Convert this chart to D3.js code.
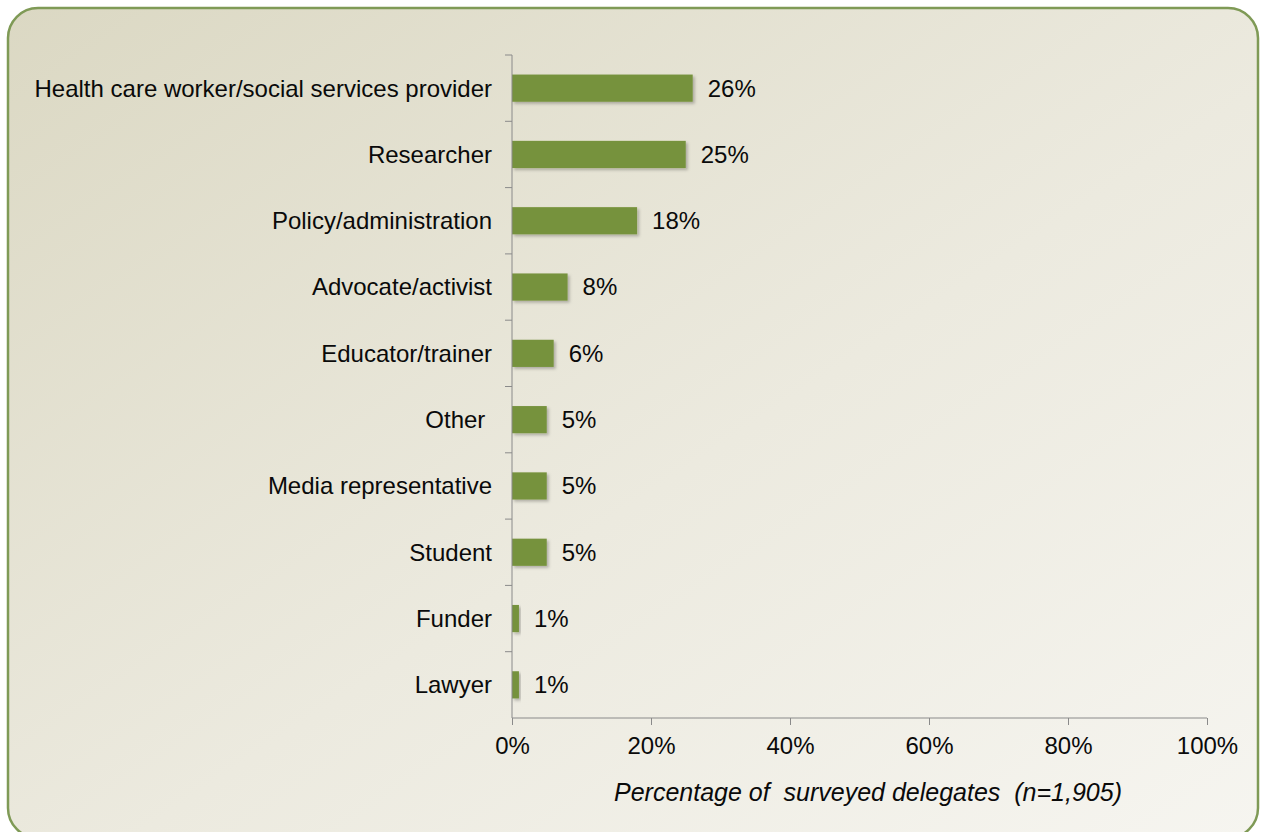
<!DOCTYPE html>
<html>
<head>
<meta charset="utf-8">
<script src="https://cdn.jsdelivr.net/npm/d3@7/dist/d3.min.js"></script>
<style>
  html, body { margin: 0; padding: 0; background: #ffffff; }
  svg { display: block; }
  text { font-family: "Liberation Sans", Arial, sans-serif; fill: #0a0a0a; }
</style>
</head>
<body>
<svg id="chart" width="1263" height="832"></svg>
<script>
// Role of surveyed delegates
const categories = [
  "Health care worker/social services provider",
  "Researcher",
  "Policy/administration",
  "Advocate/activist",
  "Educator/trainer",
  "Other ",
  "Media representative",
  "Student",
  "Funder",
  "Lawyer"
];
const shares = [26, 25, 18, 8, 6, 5, 5, 5, 1, 1];
const xTicks = [0, 20, 40, 60, 80, 100];
const xTitle = "Percentage of  surveyed delegates  (n=1,905)";

const svg = d3.select("#chart");
const defs = svg.append("defs");

const bg = defs.append("linearGradient")
  .attr("id", "panelFill")
  .attr("x1", "0%").attr("y1", "0%").attr("x2", "100%").attr("y2", "100%");
bg.append("stop").attr("offset", "0%").attr("stop-color", "#dbd8c3");
bg.append("stop").attr("offset", "55%").attr("stop-color", "#eceadf");
bg.append("stop").attr("offset", "100%").attr("stop-color", "#f6f5f0");

const shadow = defs.append("filter").attr("id", "barShadow")
  .attr("x", "-10%").attr("y", "-30%").attr("width", "130%").attr("height", "180%");
shadow.append("feDropShadow")
  .attr("dx", 2).attr("dy", 2).attr("stdDeviation", 1.5)
  .attr("flood-color", "#000").attr("flood-opacity", 0.25);

// Rounded panel
svg.append("rect")
  .attr("x", 8).attr("y", 8)
  .attr("width", 1250).attr("height", 830)
  .attr("rx", 30).attr("ry", 30)
  .attr("fill", "url(#panelFill)")
  .attr("stroke", "#7f9a56")
  .attr("stroke-width", 2.5);

const x = d3.scaleLinear().domain([0, 100]).range([512, 1207]);
const y = d3.scaleBand().domain(categories).range([55, 718]).paddingInner(0.59).paddingOuter(0.295);

const axisColor = "#8a8a8a";
const fontSize = 24;

// Bars
svg.append("g").selectAll("rect")
  .data(categories)
  .join("rect")
  .attr("x", x(0))
  .attr("y", d => y(d))
  .attr("width", (d, i) => x(shares[i]) - x(0))
  .attr("height", y.bandwidth())
  .attr("fill", "#76923c")
  .attr("filter", "url(#barShadow)");

// Value labels
svg.append("g").selectAll("text")
  .data(categories)
  .join("text")
  .attr("x", (d, i) => x(shares[i]) + 15)
  .attr("y", d => y(d) + y.bandwidth() / 2)
  .attr("dy", "0.35em")
  .attr("font-size", fontSize)
  .text((d, i) => shares[i] + "%");

// Y axis (category boundaries as ticks)
const yAxis = svg.append("g");
yAxis.append("line")
  .attr("x1", x(0)).attr("x2", x(0))
  .attr("y1", 55).attr("y2", 718)
  .attr("stroke", axisColor).attr("stroke-width", 1);
const step = y.step();
yAxis.selectAll("line.tick")
  .data(d3.range(categories.length))
  .join("line")
  .attr("class", "tick")
  .attr("x1", x(0) - 7).attr("x2", x(0))
  .attr("y1", i => 55 + i * step)
  .attr("y2", i => 55 + i * step)
  .attr("stroke", axisColor);
yAxis.selectAll("text")
  .data(categories)
  .join("text")
  .attr("x", x(0) - 20)
  .attr("y", d => y(d) + y.bandwidth() / 2)
  .attr("dy", "0.35em")
  .attr("text-anchor", "end")
  .attr("font-size", fontSize)
  .style("white-space", "pre")
  .text(d => d);

// X axis
const xAxis = svg.append("g").attr("transform", "translate(0,718)")
  .call(d3.axisBottom(x).tickValues(xTicks).tickSize(7).tickPadding(12).tickFormat(d => d + "%"));
xAxis.select(".domain").attr("stroke", axisColor).attr("d", `M${x(0)},0H${x(100)}`);
xAxis.selectAll(".tick line").attr("stroke", axisColor);
xAxis.selectAll(".tick text")
  .attr("font-size", fontSize)
  .attr("fill", "#0a0a0a")
  .attr("font-family", "'Liberation Sans', Arial, sans-serif");

// X axis title
svg.append("text")
  .attr("x", 868)
  .attr("y", 801)
  .attr("text-anchor", "middle")
  .attr("font-size", 25)
  .attr("font-style", "italic")
  .style("white-space", "pre")
  .text(xTitle);
</script>
</body>
</html>
